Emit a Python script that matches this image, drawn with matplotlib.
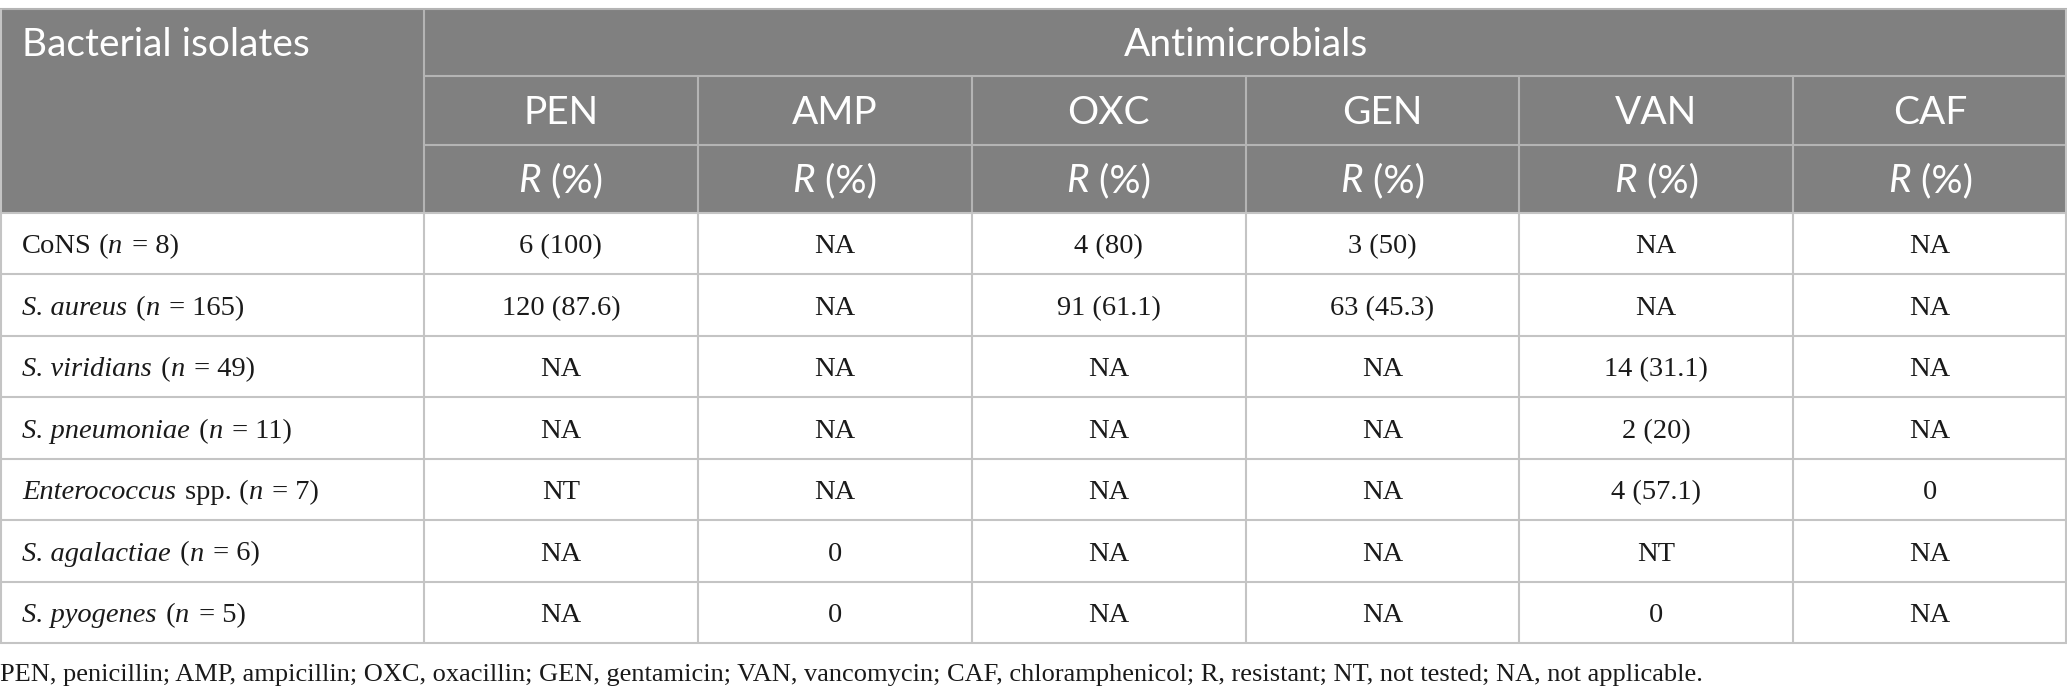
import matplotlib.pyplot as plt
from matplotlib.patches import Rectangle

# table content
drugs = ['PEN', 'AMP', 'OXC', 'GEN', 'VAN', 'CAF']
isolate_names = ['CoNS', 'S. aureus', 'S. viridians', 'S. pneumoniae',
                 'Enterococcus', 'S. agalactiae', 'S. pyogenes']
isolate_italic = [False, True, True, True, True, True, True]
isolate_suffix = ['', '', '', '', ' spp.', '', '']
isolate_n = [8, 165, 49, 11, 7, 6, 5]

pen = ['6 (100)', '120 (87.6)', 'NA', 'NA', 'NT', 'NA', 'NA']
amp = ['NA', 'NA', 'NA', 'NA', 'NA', '0', '0']
oxc = ['4 (80)', '91 (61.1)', 'NA', 'NA', 'NA', 'NA', 'NA']
gen = ['3 (50)', '63 (45.3)', 'NA', 'NA', 'NA', 'NA', 'NA']
van = ['NA', 'NA', '14 (31.1)', '2 (20)', '4 (57.1)', 'NT', '0']
caf = ['NA', 'NA', 'NA', 'NA', '0', 'NA', 'NA']
columns = [pen, amp, oxc, gen, van, caf]

footnote = ('PEN, penicillin; AMP, ampicillin; OXC, oxacillin; GEN, gentamicin; '
            'VAN, vancomycin; CAF, chloramphenicol; R, resistant; NT, not tested; '
            'NA, not applicable.')

W, H = 2067, 700
HEAD_FONT = 'Lato'
BODY_FONT = 'Liberation Serif'
HEAD_SIZE = 28
BODY_SIZE = 20.5
NOTE_SIZE = 19
TEXT_COLOR = '#1a1a1a'
HEAD_BG = '#808080'
HEAD_LINE = '#b4b4b4'
BODY_LINE = '#c4c4c4'

fig = plt.figure(figsize=(W / 100, H / 100), dpi=100)
ax = fig.add_axes([0, 0, 1, 1])
ax.set_xlim(0, W)
ax.set_ylim(H, 0)
ax.axis('off')
renderer = fig.canvas.get_renderer()

first_w = 424
col_w = (W - first_w) / len(drugs)
col_edges = [first_w + i * col_w for i in range(len(drugs) + 1)]
head_y = [9, 76, 145, 213]
body_bottom = 643
row_h = (body_bottom - head_y[-1]) / len(isolate_names)
row_edges = [head_y[-1] + i * row_h for i in range(len(isolate_names) + 1)]


def text_width(s, family, size, italic):
    # advance width, trailing spaces included (measure against a reference char)
    t = ax.text(0, 0, s + '|', family=family, fontsize=size,
                style='italic' if italic else 'normal')
    r = ax.text(0, 0, '|', family=family, fontsize=size)
    w = t.get_window_extent(renderer).width - r.get_window_extent(renderer).width
    t.remove()
    r.remove()
    return w


def draw_runs(x, yc, runs, family, size, color, ha='left'):
    widths = [text_width(s, family, size, it) for s, it in runs]
    total = sum(widths)
    x0 = x - total / 2 if ha == 'center' else x
    base = yc + 0.34 * size * 100 / 72
    for (s, it), w in zip(runs, widths):
        ax.text(x0, base, s, family=family, fontsize=size, color=color,
                style='italic' if it else 'normal', ha='left', va='baseline')
        x0 += w


# header background
ax.add_patch(Rectangle((0, head_y[0]), W, head_y[-1] - head_y[0],
                       facecolor=HEAD_BG, edgecolor='none'))

# header lines
lw = 1.5
ax.hlines(head_y[0], 0, W, color=HEAD_LINE, lw=lw)
ax.vlines(first_w, head_y[0], head_y[-1], color=HEAD_LINE, lw=lw)
ax.hlines([head_y[1], head_y[2]], first_w, W, color=HEAD_LINE, lw=lw)
ax.vlines(col_edges[1:-1], head_y[1], head_y[-1], color=HEAD_LINE, lw=lw)

# body lines
ax.hlines(row_edges, 0, W, color=BODY_LINE, lw=lw)
ax.vlines(col_edges[:-1], head_y[-1], body_bottom, color=BODY_LINE, lw=lw)
ax.vlines([1, W - 1], head_y[0], body_bottom, color=BODY_LINE, lw=lw)

# header text
c1 = (head_y[0] + head_y[1]) / 2
c2 = (head_y[1] + head_y[2]) / 2
c3 = (head_y[2] + head_y[3]) / 2
draw_runs(22, c1, [('Bacterial isolates', False)], HEAD_FONT, HEAD_SIZE, 'white')
draw_runs((first_w + W) / 2, c1, [('Antimicrobials', False)], HEAD_FONT, HEAD_SIZE,
          'white', ha='center')
for i, d in enumerate(drugs):
    xc = (col_edges[i] + col_edges[i + 1]) / 2
    draw_runs(xc, c2, [(d, False)], HEAD_FONT, HEAD_SIZE, 'white', ha='center')
    draw_runs(xc, c3, [('R', True), (' (%)', False)], HEAD_FONT, HEAD_SIZE,
              'white', ha='center')

# body text
for r, name in enumerate(isolate_names):
    yc = (row_edges[r] + row_edges[r + 1]) / 2
    runs = [(name, isolate_italic[r])]
    if isolate_suffix[r]:
        runs.append((isolate_suffix[r], False))
    runs += [(' (', False), ('n', True), (f' = {isolate_n[r]})', False)]
    draw_runs(22, yc, runs, BODY_FONT, BODY_SIZE, TEXT_COLOR)
    for i, col in enumerate(columns):
        xc = (col_edges[i] + col_edges[i + 1]) / 2
        draw_runs(xc, yc, [(col[r], False)], BODY_FONT, BODY_SIZE, TEXT_COLOR,
                  ha='center')

draw_runs(0, 672, [(footnote, False)], BODY_FONT, NOTE_SIZE, TEXT_COLOR)

fig.savefig('out.png', dpi=100)
